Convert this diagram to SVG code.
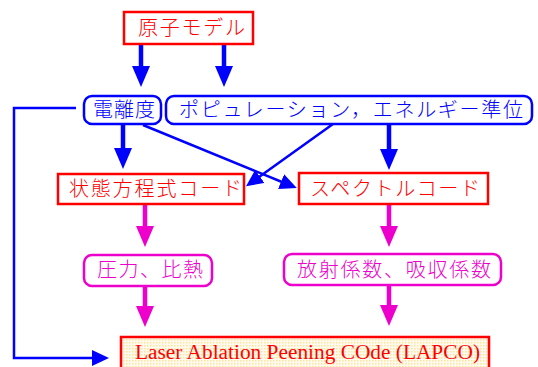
<svg xmlns="http://www.w3.org/2000/svg" width="538" height="367" viewBox="0 0 538 367">
<defs>
<style>
.jp{font-family:"Noto Sans CJK JP","Noto Sans CJK SC",sans-serif;font-size:20px;font-weight:300}
.red{fill:#ff0000}.blue{fill:#0000ff}.mag{fill:#ee00cc}
.rbox{fill:#ffffff;stroke:#ff0000;stroke-width:2.5}
.bbox{fill:#ffffff;stroke:#0000ff;stroke-width:2.5}
.mbox{fill:#ffffff;stroke:#ee00cc;stroke-width:2.5}
.bthick{stroke:#0000ff;stroke-width:4.5;fill:none}
.mthick{stroke:#ee00cc;stroke-width:4.5;fill:none}
.bthin{stroke:#0000ff;stroke-width:2.5;fill:none}
</style>
<marker id="hb" markerUnits="userSpaceOnUse" markerWidth="22" markerHeight="18" refX="1" refY="9" orient="auto"><path d="M0,0 L21,9 L0,18 z" fill="#0000ff"/></marker>
<marker id="hm" markerUnits="userSpaceOnUse" markerWidth="22" markerHeight="18" refX="1" refY="9" orient="auto"><path d="M0,0 L21,9 L0,18 z" fill="#ee00cc"/></marker>
<marker id="hs" markerUnits="userSpaceOnUse" markerWidth="18" markerHeight="16" refX="1" refY="8" orient="auto"><path d="M0,0 L17,8 L0,16 z" fill="#0000ff"/></marker>
<pattern id="dots" width="3" height="3" patternUnits="userSpaceOnUse"><rect width="3" height="3" fill="#fffaf0"/><rect width="1.5" height="1.5" fill="#ffe49a"/></pattern>
</defs>
<rect width="538" height="367" fill="#ffffff"/>
<g id="connectors">
<line class="bthick" x1="141" y1="45" x2="141" y2="67" marker-end="url(#hb)"/>
<line class="bthick" x1="224" y1="45" x2="224" y2="67" marker-end="url(#hb)"/>
<line class="bthick" x1="123" y1="125" x2="123" y2="149" marker-end="url(#hb)"/>
<line class="bthick" x1="389" y1="125" x2="389" y2="150" marker-end="url(#hb)"/>
<line class="bthin" x1="143" y1="125" x2="282" y2="182" marker-end="url(#hs)"/>
<line class="bthin" x1="333" y1="124" x2="259" y2="177" marker-end="url(#hs)"/>
<polyline class="bthin" points="76,108 14,108 14,358 93,358" marker-end="url(#hs)"/>
<line class="mthick" x1="145" y1="205" x2="145" y2="227" marker-end="url(#hm)"/>
<line class="mthick" x1="145" y1="287" x2="145" y2="307" marker-end="url(#hm)"/>
<line class="mthick" x1="389" y1="205" x2="389" y2="227" marker-end="url(#hm)"/>
<line class="mthick" x1="389" y1="286" x2="389" y2="306" marker-end="url(#hm)"/>
</g>
<g id="atom-model">
<rect class="rbox" x="124" y="12" width="129" height="32"/>
<text class="jp red" x="138" y="35" textLength="107" lengthAdjust="spacing">原子モデル</text>
</g>
<g id="ionization">
<rect class="bbox" x="84" y="96" width="77" height="28" rx="8"/>
<text class="jp blue" x="93" y="117" textLength="62" lengthAdjust="spacing">電離度</text>
</g>
<g id="population">
<rect class="bbox" x="166" y="96" width="366" height="28" rx="8"/>
<text class="jp blue" x="179" y="117" textLength="344" lengthAdjust="spacing">ポピュレーション，エネルギー準位</text>
</g>
<g id="eos-code">
<rect class="rbox" x="58" y="174" width="186" height="30"/>
<text class="jp red" x="69" y="196" textLength="173" lengthAdjust="spacing">状態方程式コード</text>
</g>
<g id="spectrum-code">
<rect class="rbox" x="299" y="173" width="189" height="31"/>
<text class="jp red" x="310" y="196" textLength="170" lengthAdjust="spacing">スペクトルコード</text>
</g>
<g id="pressure">
<rect class="mbox" x="84" y="255" width="128" height="31" rx="8"/>
<text class="jp mag" x="97" y="277" textLength="106" lengthAdjust="spacing">圧力、比熱</text>
</g>
<g id="coefficients">
<rect class="mbox" x="284" y="254" width="217" height="31" rx="8"/>
<text class="jp mag" x="297" y="277" textLength="194" lengthAdjust="spacing">放射係数、吸収係数</text>
</g>
<g id="lapco">
<rect x="121" y="337" width="368" height="40" fill="url(#dots)" stroke="#ff0000" stroke-width="2.5"/>
<text x="135" y="359" fill="#ff0000" font-family="Liberation Serif, serif" font-size="20" textLength="345" lengthAdjust="spacingAndGlyphs">Laser Ablation Peening COde (LAPCO)</text>
</g>
</svg>
